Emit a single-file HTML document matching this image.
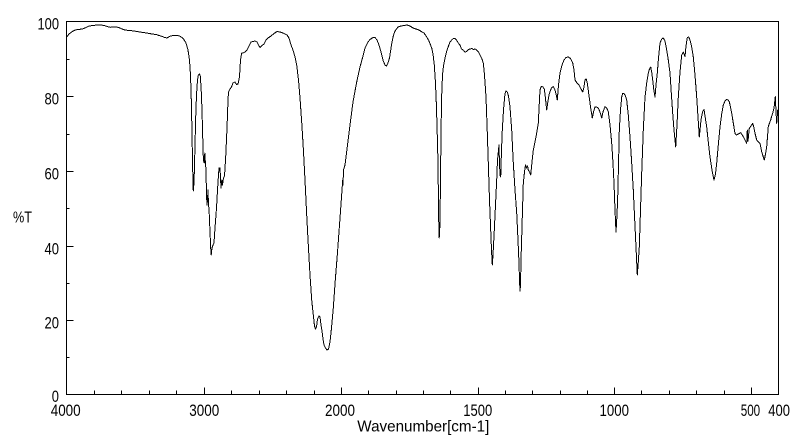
<!DOCTYPE html>
<html>
<head>
<meta charset="utf-8">
<style>
html,body{margin:0;padding:0;background:#fff;}
svg{display:block;}
text{font-family:"Liberation Sans",sans-serif;fill:#000;}
</style>
</head>
<body>
<svg width="800" height="441" viewBox="0 0 800 441" xmlns="http://www.w3.org/2000/svg">
<rect x="0" y="0" width="800" height="441" fill="#fff"/>
<g stroke="#000" stroke-width="1" fill="none" shape-rendering="crispEdges">
<rect x="66.5" y="21.5" width="712" height="373"/>
<path d="M66.5 320.5H73.5M66.5 246.5H73.5M66.5 171.5H73.5M66.5 96.5H73.5"/>
<path d="M66.5 357.5H69.5M66.5 283.5H69.5M66.5 208.5H69.5M66.5 134.5H69.5M66.5 59.5H69.5"/>
<path d="M204.5 394.5V387.5M341.5 394.5V387.5M478.5 394.5V387.5M614.5 394.5V387.5M751.5 394.5V387.5"/>
<path d="M94.5 394.5V390.5M121.5 394.5V390.5M149.5 394.5V390.5M176.5 394.5V390.5M231.5 394.5V390.5M259.5 394.5V390.5M286.5 394.5V390.5M314.5 394.5V390.5M368.5 394.5V390.5M396.5 394.5V390.5M423.5 394.5V390.5M450.5 394.5V390.5M505.5 394.5V390.5M532.5 394.5V390.5M560.5 394.5V390.5M587.5 394.5V390.5M641.5 394.5V390.5M669.5 394.5V390.5M696.5 394.5V390.5M724.5 394.5V390.5"/>
</g>
<polyline fill="none" stroke="#000" stroke-width="1" stroke-linejoin="round" shape-rendering="crispEdges" points="
66.5,37 67.3,36.3 69,34 71.7,32 74,30.5 76.7,29.7 80,29.3 83.3,28.7 86,27.5 88.3,26.3 91,25.8 93.3,25.3 97,25.2 100,25 103,25.3 105,25.7 108,26.8 110,27.3 113,27 116.7,27 120,28 122,29 125,30 128,30.4 131.7,30.7 136,31.3 140,32 143,32.5 146.7,33 151,33.8 156.7,34.7 159,35.5 161.7,36.3 164,37.2 166.7,38 170,36.3 173,35.5 175,35.3 178,35.6 180,36.3 182,37.5 184,39.7 186,43 188,50 189.5,60 190.5,75 191.3,100 191.8,123 192.5,160 193,183 193.3,191 193.8,185 194.3,173 195,145 195.7,117 196.5,95 197.5,80 198.3,75 199.5,74 200.3,76 201.2,90 202,110 202.8,140 203.3,157 203.8,162 204.3,163 204.8,153 205.4,163 206,170 206.5,195 207,205 207.5,200 208,190 208.5,206 209,208 210,232 210.8,250 211.2,255 212,248 213,245 214,243 215,228 216.5,208 217.5,190 218.3,178 219,168 220,168 220.6,180 221,188 221.8,180 222.5,185 223.5,178 224.5,176 225.7,157 226.7,135 227.3,120 228,100 228.5,92 230,89 231.5,87 233,83 235,82 236.5,84.5 238,84 239.5,77 240.5,60 241.7,53 243,53 245,52 247,50 249,46 251,42 253,41.5 255,41 257,42 258.5,45 260,47.5 262,45.5 264,44 266,40 268,38 271,36 274,33.5 277,31.5 280,32 283,33 285,34 287,35 289,38 291,45 293,50 295,57 296.7,65 298.5,80 300,98 301.7,122 303.3,148 305,180 306.7,215 308.3,245 310,275 311.7,300 313.3,315 314.5,326 315.5,329 316.5,327 317.5,319 319,316 320,317 321,325 322,331 323,339 324,345 325.5,348 327,350 328.5,349 330,342 331.5,328 333.3,308 335.3,280 337.3,255 339.5,225 341.3,200 342,190 342.7,180 343,185 343.5,170 345,165 347.5,145 350,125 353,102 356.7,82 360,67 363,56 365,48 368,42 370,39.5 373,37.5 375,37.5 377,40 379,45 381,52 383.3,61 385,65 386.5,66 388,63 389.5,58 391.5,45 393.3,36 395,31 398,27 401,26 404,25.5 407,25 410,26 413,28 416,29 419,30 422,32 424,33 426.7,37 429,41 431.7,48 433,54 434.3,65 435.3,80 436.2,100 437,125 437.7,150 438.2,180 438.7,220 439.2,238 439.6,232 440,222 440.7,160 441.5,100 442.5,75 443.5,66 445,58 446.7,51 448.5,46 450,42 451.7,40 453.3,38.5 455,38.5 456.5,40 458.3,43 460,45 461.5,49 463.3,50 465,52 466.7,51.5 468.5,49.5 470,49 471.7,48.5 473.5,49.5 475,49 476.7,50 478.5,52 480,55 482,59 483.3,63 484.5,75 486,97 487.2,130 488.3,163 489.5,200 490.7,230 491.5,250 492.3,265 493,255 494.3,230 495.5,205 496.7,180 497.5,160 498.5,150 499,145 499.5,165 500.2,176 500.7,177 501.5,150 502.3,130 503.5,110 505,93.5 506,91 507.3,92 508.5,96 510,107 511.7,130 513.3,163 515,190 516.7,213 518,240 519,263 519.5,280 520,291 520.5,285 521,260 521.7,237 522.5,210 523.3,183 524.5,172 525.5,165 526.5,168 527.5,166 528.3,170 529.5,172 530.7,175 532,162 533.3,150 535,142 536.7,133 538.3,123 539.2,105 540,90 541,87 541.7,86.5 543,87 544.3,89 545.3,97 546.7,110 548,101 549,95 550,91.5 551.5,88 553.3,86.5 555,90 556.5,96 557.3,100 558.5,85 560,73 562,65 564,60 566,57.5 568.3,57 570.5,58.5 572.7,63 574,70 575,80 577,83 579,85 580.5,88 582.7,92 584,87 585,80 586.2,79 587.3,83 588.5,92 590,103 591,110 592.3,118 593.5,112 595,107 596.5,107 598.3,108 600,112 601.7,118 603,112 605,106.7 606.7,108 608.3,111.7 610,125 611.7,143 613,163 614,183 615,210 616,232 617,215 617.7,197 618.5,165 619.3,130 620.5,110 621.7,97 622.7,93.3 624,93.5 625.5,96 626.7,100 628.3,115 630,137 631.7,163 633.3,190 634.7,220 636,247 637.3,275 638.3,262 639.3,247 640.5,210 641.7,173 643.3,130 645,97 646.7,83 648.3,73 649.5,69 650.7,67 651.7,72 652.7,80 653.8,90 655,97 656,85 657.3,73 658.5,58 660,43 661.7,39 663.3,38 665,41 666.7,50 668.3,60 670,73 671.3,93 672.7,113 674,130 675.7,147 677,125 678.3,97 680,72 681.7,55 683.3,52 685,56.5 686,46 687.3,37.5 688.7,37 690,40 691.7,47 693.3,57 695,75 696.7,97 698,117 699.3,137 700.2,128 701,120 702.5,112 704,109.5 705.3,118 706.7,127 708.3,142 710,157 712,170 714,180 715.5,174 716.7,163 718.3,145 720,127 721.7,114 723.3,105 725,101 726.7,99.3 728,100 729.3,101.7 730.5,107 731.7,113.3 733.3,123 735,133.3 736.5,135 738.3,134 740.7,132.7 742,134.5 743.3,136.7 745,140 746.7,143.3 747.3,130 748,141 749.3,128.3 751,126 752.7,123.3 754,128 755,133.3 756.7,140 758.5,142 760,143.3 761.7,151.7 763,156 764.3,160 765.5,154 766.7,146.7 768.3,126.7 769.5,123 770.7,120 771.7,116 772.7,113.3 773.5,110 774,108.3 775.3,96.7 776,112 776.7,123.3 777.7,110 778,115"/>
<g font-size="17" text-anchor="end">
<text x="59" y="29.5" textLength="21.5" lengthAdjust="spacingAndGlyphs">100</text>
<text x="59" y="104.5" textLength="14.5" lengthAdjust="spacingAndGlyphs">80</text>
<text x="59" y="179.5" textLength="14.5" lengthAdjust="spacingAndGlyphs">60</text>
<text x="59" y="254.5" textLength="14.5" lengthAdjust="spacingAndGlyphs">40</text>
<text x="59" y="328.5" textLength="14.5" lengthAdjust="spacingAndGlyphs">20</text>
<text x="59" y="402" textLength="7.2" lengthAdjust="spacingAndGlyphs">0</text>
</g>
<text x="13" y="222.5" font-size="16" textLength="19" lengthAdjust="spacingAndGlyphs">%T</text>
<g font-size="17">
<text x="50.7" y="416" textLength="30" lengthAdjust="spacingAndGlyphs">4000</text>
<text x="189.3" y="416" textLength="30" lengthAdjust="spacingAndGlyphs">3000</text>
<text x="325" y="416" textLength="30" lengthAdjust="spacingAndGlyphs">2000</text>
<text x="463.3" y="416" textLength="29" lengthAdjust="spacingAndGlyphs">1500</text>
<text x="599.5" y="416" textLength="29.5" lengthAdjust="spacingAndGlyphs">1000</text>
<text x="740.7" y="416" textLength="19.5" lengthAdjust="spacingAndGlyphs">500</text>
<text x="768.3" y="416" textLength="21.7" lengthAdjust="spacingAndGlyphs">400</text>
</g>
<text x="357.3" y="431.5" font-size="16" textLength="132" lengthAdjust="spacingAndGlyphs">Wavenumber[cm-1]</text>
</svg>
</body>
</html>
